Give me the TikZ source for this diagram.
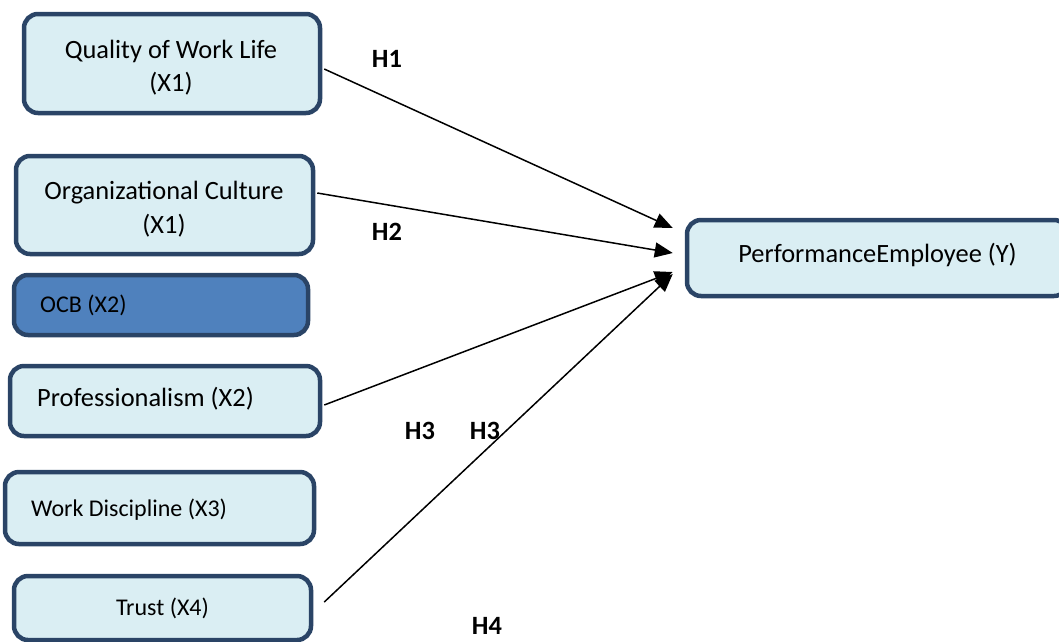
\documentclass[tikz,border=0pt]{standalone}
\usepackage{fontspec}
\setmainfont{Carlito}
\usetikzlibrary{arrows.meta}
\definecolor{boxfill}{HTML}{DAEEF3}
\definecolor{boxline}{HTML}{2A4466}
\definecolor{ocbfill}{HTML}{4F81BD}
\tikzset{
  box/.style={draw=boxline, line width=4.5pt, fill=boxfill, rounded corners=14pt,
    inner sep=0pt, align=center, font=\fontsize{26.4}{33.5}\selectfont},
  txt/.style={inner sep=0pt, anchor=west},
  ctxt/.style={inner sep=0pt, align=center, font=\fontsize{26.4}{33.5}\selectfont},
  bigtxt/.style={font=\fontsize{26.4}{33.5}\selectfont},
  smalltxt/.style={font=\fontsize{24}{30}\selectfont},
  hlab/.style={inner sep=0pt, font=\fontsize{26.4}{32}\selectfont\bfseries},
  arr/.style={line width=1.5pt, -{Triangle[length=18pt,width=15pt]}}
}
\begin{document}
\begin{tikzpicture}[x=1pt,y=-1pt]
\useasboundingbox (0,0) rectangle (1059,641);
\clip (0,0) rectangle (1059,641);
% boxes
\node[box, minimum width=296pt, minimum height=99pt] (q) at (172,63.5) {};
\node[ctxt] (qt) at (171,67.5) {Quality of Work Life\\(X1)};
\node[box, minimum width=297pt, minimum height=98pt] (org) at (164.5,205) {};
\node[ctxt] (orgt) at (164,209) {Organizational Culture\\(X1)};
\node[box, fill=ocbfill, minimum width=294pt, minimum height=60pt] (ocb) at (161,305) {};
\node[txt, smalltxt] (ocbt) at (40,305) {OCB (X2)};
\node[box, minimum width=310pt, minimum height=70pt] (prof) at (165,401) {};
\node[txt, bigtxt] (proft) at (37,399) {Professionalism (X2)};
\node[box, minimum width=309pt, minimum height=72pt] (wd) at (159.5,508) {};
\node[txt, smalltxt] (wdt) at (31,510) {Work Discipline (X3)};
\node[box, minimum width=297pt, minimum height=64pt, font=\fontsize{24}{30}\selectfont] (tr) at (162.5,608) {Trust (X4)};
\node[box, minimum width=381pt, minimum height=76pt] (p) at (877.5,258) {};
\node[inner sep=0pt, bigtxt] (pt) at (877.5,255) {PerformanceEmployee (Y)};
% labels
\node[hlab] (h1) at (387,59) {H1};
\node[hlab] (h2) at (387,232) {H2};
\node[hlab] (h3a) at (420,431) {H3};
\node[hlab] (h3b) at (485,431) {H3};
\node[hlab] (h4) at (487,626) {H4};
% arrows
\draw[arr] ([xshift=2pt,yshift=-5.5pt]q.east) -- ([xshift=-12pt,yshift=30pt]p.west);
\draw[arr] ([xshift=2pt,yshift=12pt]org.east) -- ([xshift=-12pt,yshift=5pt]p.west);
\draw[arr] ([xshift=2pt,yshift=-4pt]prof.east) -- ([xshift=-12pt,yshift=-14pt]p.west);
\draw[arr] ([xshift=11pt,yshift=6pt]tr.east) -- ([xshift=-12pt,yshift=-16pt]p.west);
\end{tikzpicture}
\end{document}
